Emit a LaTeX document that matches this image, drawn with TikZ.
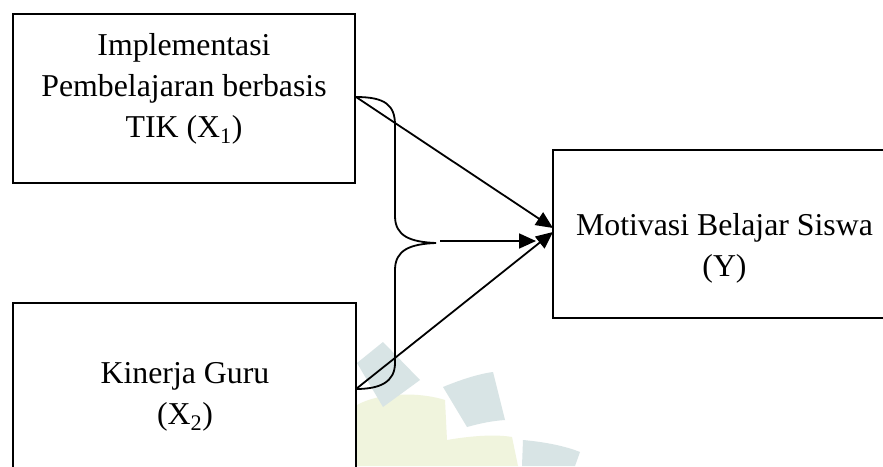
\documentclass[tikz,border=0pt]{standalone}
\usepackage{fontspec}
\setmainfont{Liberation Serif}
\usetikzlibrary{arrows.meta}
\definecolor{wmblue}{HTML}{D8E4E5}
\definecolor{wmyellow}{HTML}{F0F4DD}
\tikzset{
  box/.style={draw=black, line width=1.8pt, fill=white, rectangle, inner sep=0pt},
  lbl/.style={font=\fontsize{31.8}{41}\selectfont, align=center, inner sep=0pt},
  conn/.style={draw=black, line width=1.8pt},
  arr/.style={conn, -{Triangle[length=17pt,width=15pt]}},
  wma/.style={fill=wmblue, draw=none},
  wmb/.style={fill=wmyellow, draw=none}
}
\begin{document}
\begin{tikzpicture}[x=1pt,y=-1pt]
\useasboundingbox (0,0) rectangle (883,466);
\clip (0,0) rectangle (883,466);
\fill[white] (0,0) rectangle (883,466);
% faint watermark
\path[wmb] (357,405) .. controls (380,392) and (420,392) .. (445,400) -- (447,440) .. controls (470,436) and (495,434) .. (512,437) -- (518,466) -- (357,466) -- cycle;
\path[wma] (357,363) -- (383,342) -- (420,380) -- (383,407) -- cycle;
\path[wma] (443,387) .. controls (460,380) and (478,374) .. (493,372) -- (505,420) .. controls (490,421) and (478,424) .. (467,427) -- cycle;
\path[wma] (523,440) .. controls (545,442) and (565,446) .. (580,452) -- (575,466) -- (522,466) -- cycle;
% boxes
\node[box, minimum width=342pt, minimum height=169pt] (b1) at (184,98.5) {};
\node[box, minimum width=343pt, minimum height=180pt] (b2) at (184.5,393) {};
\node[box, minimum width=360pt, minimum height=168pt] (y) at (733,234) {};
\node[lbl] (l1) at (184,89) {Implementasi\\Pembelajaran berbasis\\TIK (X\textsubscript{1})};
\node[lbl] (l2) at (185,397) {Kinerja Guru\\(X\textsubscript{2})};
\node[lbl] (ly) at (724.5,248) {Motivasi Belajar Siswa\\(Y)};
% connector points
\coordinate (s1) at (356,97);
\coordinate (s2) at (356,389);
\coordinate (tip) at (436,243);
\coordinate (hs) at (440,241);
\coordinate (he) at (536,241);
\coordinate (t1) at (553,228);
\coordinate (t2) at (553,232);
% brace
\draw[conn] (s1) .. controls (385,97) and (395,105) .. (395,125) -- (395,216)
  .. controls (395,236) and (410,242) .. (tip)
  .. controls (410,244) and (395,250) .. (395,270) -- (395,363)
  .. controls (395,382) and (380,389) .. (s2);
% arrows
\draw[arr] (s1) -- (t1);
\draw[arr] (hs) -- (he);
\draw[arr] (s2) -- (t2);
\end{tikzpicture}
\end{document}
